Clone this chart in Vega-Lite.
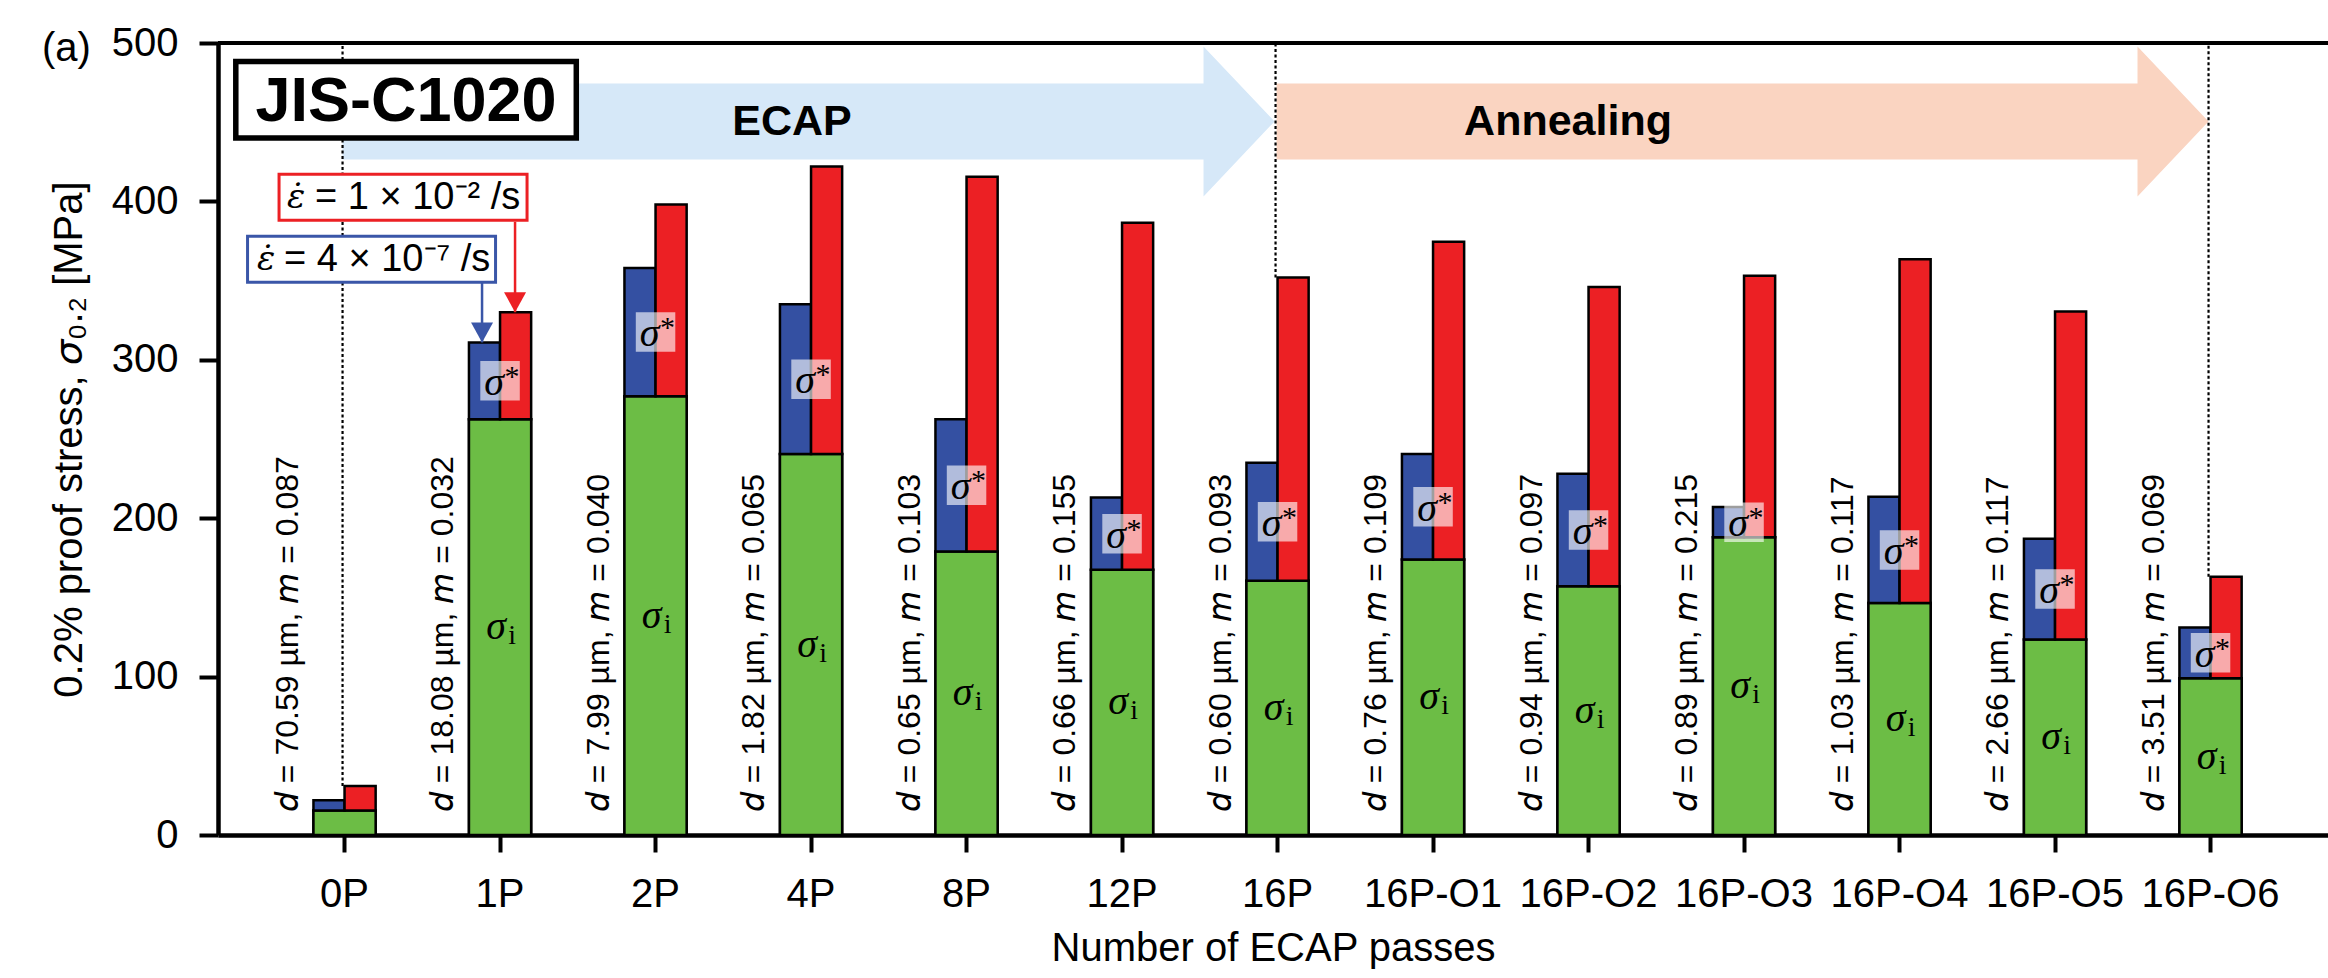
{
  "$schema": "https://vega.github.io/schema/vega-lite/v6.json",
  "width": 2110,
  "height": 792,
  "autosize": "none",
  "padding": {"left": 218, "top": 43, "right": 0, "bottom": 143},
  "background": "white",
  "config": {"view": {"stroke": null}, "font": "Liberation Sans"},
  "title": {
    "text": "(a)", "anchor": "start", "frame": "group", "orient": "top",
    "offset": 0, "dx": -176, "dy": 66, "baseline": "middle",
    "fontSize": 40, "fontWeight": "normal", "font": "Liberation Sans", "color": "black"
  },
  "datasets": {
    "passes": [
      {"pass": "0P", "sigma_i": 15.5, "slow": 22, "fast": 31, "d": 70.59, "m": 0.087},
      {"pass": "1P", "sigma_i": 262.5, "slow": 311, "fast": 330, "d": 18.08, "m": 0.032},
      {"pass": "2P", "sigma_i": 277, "slow": 358, "fast": 398, "d": 7.99, "m": 0.040},
      {"pass": "4P", "sigma_i": 240.5, "slow": 335, "fast": 422, "d": 1.82, "m": 0.065},
      {"pass": "8P", "sigma_i": 179, "slow": 262.5, "fast": 415.5, "d": 0.65, "m": 0.103},
      {"pass": "12P", "sigma_i": 167.5, "slow": 213, "fast": 386.5, "d": 0.66, "m": 0.155},
      {"pass": "16P", "sigma_i": 160.5, "slow": 235, "fast": 352, "d": 0.60, "m": 0.093},
      {"pass": "16P-O1", "sigma_i": 174, "slow": 240.5, "fast": 374.5, "d": 0.76, "m": 0.109},
      {"pass": "16P-O2", "sigma_i": 157, "slow": 228, "fast": 346, "d": 0.94, "m": 0.097},
      {"pass": "16P-O3", "sigma_i": 188, "slow": 207, "fast": 353, "d": 0.89, "m": 0.215},
      {"pass": "16P-O4", "sigma_i": 146.5, "slow": 213.5, "fast": 363.5, "d": 1.03, "m": 0.117},
      {"pass": "16P-O5", "sigma_i": 123.5, "slow": 187, "fast": 330.5, "d": 2.66, "m": 0.117},
      {"pass": "16P-O6", "sigma_i": 99, "slow": 131, "fast": 163, "d": 3.51, "m": 0.069}
    ]
  },
  "data": {"name": "passes"},
  "layer": [
    {
      "mark": {"type": "bar", "color": "#6cbd45", "stroke": "black", "strokeWidth": 2.5},
      "encoding": {
        "x": {
          "field": "pass", "type": "nominal", "sort": null,
          "scale": {
            "domain": ["0P", "1P", "2P", "4P", "8P", "12P", "16P", "16P-O1", "16P-O2", "16P-O3", "16P-O4", "16P-O5", "16P-O6"],
            "paddingInner": 0.6, "paddingOuter": 0.5846, "align": 0.525
          },
          "axis": {
            "title": "Number of ECAP passes", "titleFont": "Liberation Sans", "titleFontSize": 40,
            "titleFontWeight": "normal", "titleColor": "black", "titlePadding": 14,
            "labelFont": "Liberation Sans", "labelFontSize": 40, "labelColor": "black",
            "labelPadding": 22, "labelAngle": 0, "labelOverlap": false, "labelBound": false,
            "tickSize": 17, "tickWidth": 4, "tickColor": "black",
            "domainWidth": 4.5, "domainColor": "black", "grid": false
          }
        },
        "y": {
          "field": "sigma_i", "type": "quantitative",
          "scale": {"domain": [0, 500], "nice": false},
          "axis": {
            "title": "0.2% proof stress, 𝜎₀.₂ [MPa]", "titleFont": "Liberation Sans", "titleFontSize": 40,
            "titleFontWeight": "normal", "titleColor": "black", "titlePadding": 22,
            "values": [0, 100, 200, 300, 400, 500],
            "labelFont": "Liberation Sans", "labelFontSize": 40, "labelColor": "black", "labelPadding": 21,
            "tickSize": 19, "tickWidth": 4, "tickColor": "black",
            "domainWidth": 4.5, "domainColor": "black", "grid": false
          }
        }
      }
    },
    {
      "transform": [{"filter": "datum.pass === '16P'"}],
      "mark": {"type": "point", "shape": "M0,0L-0.947,-1L-0.947,-0.507L-12.427,-0.507L-12.427,0.507L-0.947,0.507L-0.947,1Z", "size": 22500, "filled": true, "color": "#d6e8f8", "opacity": 1, "strokeWidth": 0, "xOffset": -3},
      "encoding": {
        "x": {"field": "pass", "type": "nominal"},
        "y": {"datum": 450.5, "type": "quantitative"}
      }
    },
    {
      "transform": [{"filter": "datum.pass === '16P-O6'"}],
      "mark": {"type": "point", "shape": "M0,0L-0.947,-1L-0.947,-0.507L-12.427,-0.507L-12.427,0.507L-0.947,0.507L-0.947,1Z", "size": 22500, "filled": true, "color": "#fad4c1", "opacity": 1, "strokeWidth": 0, "xOffset": -2},
      "encoding": {
        "x": {"field": "pass", "type": "nominal"},
        "y": {"datum": 450.5, "type": "quantitative"}
      }
    },
    {
      "transform": [{"filter": {"field": "pass", "oneOf": ["0P", "16P", "16P-O6"]}}],
      "mark": {"type": "rule", "color": "black", "strokeWidth": 2.2, "strokeDash": [3, 2.5], "xOffset": -2},
      "encoding": {
        "x": {"field": "pass", "type": "nominal"},
        "y": {"field": "fast", "type": "quantitative"},
        "y2": {"datum": 500}
      }
    },
    {
      "mark": {"type": "bar", "color": "#6cbd45", "stroke": "black", "strokeWidth": 2.5},
      "encoding": {
        "x": {"field": "pass", "type": "nominal"},
        "y": {"field": "sigma_i", "type": "quantitative"}
      }
    },
    {
      "transform": [{"fold": ["slow", "fast"], "as": ["rate", "top"]}],
      "mark": {"type": "bar", "stroke": "black", "strokeWidth": 2.5, "opacity": 1},
      "encoding": {
        "x": {"field": "pass", "type": "nominal"},
        "xOffset": {"field": "rate", "type": "nominal", "scale": {"domain": ["slow", "fast"], "paddingInner": 0, "paddingOuter": 0}},
        "y": {"field": "top", "type": "quantitative"},
        "y2": {"field": "sigma_i"},
        "color": {"field": "rate", "type": "nominal", "scale": {"domain": ["slow", "fast"], "range": ["#3450a2", "#ec2024"]}, "legend": null}
      }
    },
    {
      "transform": [{"filter": "datum.pass !== '0P'"}, {"calculate": "(datum.sigma_i + datum.slow) / 2", "as": "star_mid"}],
      "mark": {"type": "point", "shape": "square", "size": 1560, "filled": true, "color": "white", "opacity": 0.62, "strokeWidth": 0},
      "encoding": {
        "x": {"field": "pass", "type": "nominal"},
        "y": {"field": "star_mid", "type": "quantitative"}
      }
    },
    {
      "transform": [{"filter": "datum.pass !== '0P'"}, {"calculate": "(datum.sigma_i + datum.slow) / 2", "as": "star_mid"}],
      "mark": {"type": "text", "text": "σ", "font": "Liberation Serif", "fontStyle": "italic", "fontSize": 40, "align": "center", "baseline": "middle", "dx": -6, "dy": 2, "color": "black"},
      "encoding": {
        "x": {"field": "pass", "type": "nominal"},
        "y": {"field": "star_mid", "type": "quantitative"}
      }
    },
    {
      "transform": [{"filter": "datum.pass !== '0P'"}, {"calculate": "(datum.sigma_i + datum.slow) / 2", "as": "star_mid"}],
      "mark": {"type": "text", "text": "*", "font": "Liberation Serif", "fontSize": 30, "align": "center", "baseline": "middle", "dx": 12, "dy": -4, "color": "black"},
      "encoding": {
        "x": {"field": "pass", "type": "nominal"},
        "y": {"field": "star_mid", "type": "quantitative"}
      }
    },
    {
      "transform": [{"filter": "datum.pass !== '0P'"}, {"calculate": "datum.sigma_i / 2", "as": "i_mid"}],
      "mark": {"type": "text", "text": "σ", "font": "Liberation Serif", "fontStyle": "italic", "fontSize": 40, "align": "center", "baseline": "middle", "dx": -4, "color": "black"},
      "encoding": {
        "x": {"field": "pass", "type": "nominal"},
        "y": {"field": "i_mid", "type": "quantitative"}
      }
    },
    {
      "transform": [{"filter": "datum.pass !== '0P'"}, {"calculate": "datum.sigma_i / 2", "as": "i_mid"}],
      "mark": {"type": "text", "text": "i", "font": "Liberation Serif", "fontSize": 28, "align": "center", "baseline": "middle", "dx": 12, "dy": 9, "color": "black"},
      "encoding": {
        "x": {"field": "pass", "type": "nominal"},
        "y": {"field": "i_mid", "type": "quantitative"}
      }
    },
    {
      "transform": [{"calculate": "'𝘥 = ' + format(datum.d, '.2f') + ' µm,  𝘮 = ' + format(datum.m, '.3f')", "as": "grain"}],
      "mark": {"type": "text", "angle": 270, "align": "left", "baseline": "alphabetic", "dy": -47, "font": "Liberation Sans", "fontSize": 32, "color": "black"},
      "encoding": {
        "x": {"field": "pass", "type": "nominal"},
        "y": {"datum": 14.5, "type": "quantitative"},
        "text": {"field": "grain", "type": "nominal"}
      }
    },
    {
      "transform": [{"filter": "datum.pass === '1P'"}],
      "mark": {"type": "rule", "strokeWidth": 2.5, "color": "#ec2024", "xOffset": 15},
      "encoding": {
        "x": {"field": "pass", "type": "nominal"},
        "y": {"field": "fast", "type": "quantitative"},
        "y2": {"datum": 387.1}
      }
    },
    {
      "transform": [{"filter": "datum.pass === '1P'"}],
      "mark": {"type": "rule", "strokeWidth": 2.5, "color": "#3a56a8", "xOffset": -18},
      "encoding": {
        "x": {"field": "pass", "type": "nominal"},
        "y": {"field": "slow", "type": "quantitative"},
        "y2": {"datum": 348.6}
      }
    },
    {
      "transform": [{"filter": "datum.pass === '1P'"}],
      "mark": {"type": "point", "shape": "M0,0L-0.55,-1L0.55,-1Z", "size": 1600, "filled": true, "color": "#ec2024", "opacity": 1, "strokeWidth": 0, "xOffset": 15},
      "encoding": {
        "x": {"field": "pass", "type": "nominal"},
        "y": {"field": "fast", "type": "quantitative"}
      }
    },
    {
      "transform": [{"filter": "datum.pass === '1P'"}],
      "mark": {"type": "point", "shape": "M0,0L-0.55,-1L0.55,-1Z", "size": 1600, "filled": true, "color": "#3a56a8", "opacity": 1, "strokeWidth": 0, "xOffset": -18},
      "encoding": {
        "x": {"field": "pass", "type": "nominal"},
        "y": {"field": "slow", "type": "quantitative"}
      }
    },
    {
      "transform": [{"filter": "datum.pass === '1P'"}],
      "mark": {"type": "point", "shape": "M-1,-0.1855L1,-0.1855L1,0.1855L-1,0.1855Z", "size": 61504, "filled": false, "fill": "white", "fillOpacity": 1, "stroke": "#ec2024", "strokeWidth": 3, "opacity": 1, "xOffset": -97},
      "encoding": {
        "x": {"field": "pass", "type": "nominal"},
        "y": {"datum": 402.6, "type": "quantitative"}
      }
    },
    {
      "transform": [{"filter": "datum.pass === '1P'"}],
      "mark": {"type": "text", "text": "ε̇", "font": "DejaVu Serif", "fontStyle": "italic", "fontSize": 34, "align": "left", "baseline": "middle", "color": "black", "xOffset": -213, "dy": 1},
      "encoding": {
        "x": {"field": "pass", "type": "nominal"},
        "y": {"datum": 402.6, "type": "quantitative"}
      }
    },
    {
      "transform": [{"filter": "datum.pass === '1P'"}],
      "mark": {"type": "text", "text": "= 1 × 10⁻² /s", "font": "Liberation Sans", "fontSize": 38, "align": "left", "baseline": "middle", "color": "black", "xOffset": -185, "dy": 1},
      "encoding": {
        "x": {"field": "pass", "type": "nominal"},
        "y": {"datum": 402.6, "type": "quantitative"}
      }
    },
    {
      "transform": [{"filter": "datum.pass === '1P'"}],
      "mark": {"type": "point", "shape": "M-1,-0.1855L1,-0.1855L1,0.1855L-1,0.1855Z", "size": 61504, "filled": false, "fill": "white", "fillOpacity": 1, "stroke": "#3a56a8", "strokeWidth": 3, "opacity": 1, "xOffset": -128.5},
      "encoding": {
        "x": {"field": "pass", "type": "nominal"},
        "y": {"datum": 363.5, "type": "quantitative"}
      }
    },
    {
      "transform": [{"filter": "datum.pass === '1P'"}],
      "mark": {"type": "text", "text": "ε̇", "font": "DejaVu Serif", "fontStyle": "italic", "fontSize": 34, "align": "left", "baseline": "middle", "color": "black", "xOffset": -243, "dy": 1},
      "encoding": {
        "x": {"field": "pass", "type": "nominal"},
        "y": {"datum": 363.5, "type": "quantitative"}
      }
    },
    {
      "transform": [{"filter": "datum.pass === '1P'"}],
      "mark": {"type": "text", "text": "= 4 × 10⁻⁷ /s", "font": "Liberation Sans", "fontSize": 38, "align": "left", "baseline": "middle", "color": "black", "xOffset": -216, "dy": 1},
      "encoding": {
        "x": {"field": "pass", "type": "nominal"},
        "y": {"datum": 363.5, "type": "quantitative"}
      }
    },
    {
      "transform": [{"filter": "datum.pass === '0P'"}],
      "mark": {"type": "point", "shape": "M-1,-0.2247L1,-0.2247L1,0.2247L-1,0.2247Z", "size": 115940, "filled": false, "fill": "white", "fillOpacity": 1, "stroke": "black", "strokeWidth": 5.5, "opacity": 1, "xOffset": 61.5},
      "encoding": {
        "x": {"field": "pass", "type": "nominal"},
        "y": {"datum": 464.2, "type": "quantitative"}
      }
    },
    {
      "transform": [{"filter": "datum.pass === '0P'"}],
      "mark": {"type": "text", "text": "JIS-C1020", "font": "Liberation Sans", "fontWeight": "bold", "fontSize": 63, "align": "center", "baseline": "middle", "color": "black", "xOffset": 61.5, "dy": 2},
      "encoding": {
        "x": {"field": "pass", "type": "nominal"},
        "y": {"datum": 464.2, "type": "quantitative"}
      }
    },
    {
      "transform": [{"filter": "datum.pass === '4P'"}],
      "mark": {"type": "text", "text": "ECAP", "font": "Liberation Sans", "fontWeight": "bold", "fontSize": 43, "align": "center", "baseline": "middle", "color": "black", "xOffset": -19},
      "encoding": {
        "x": {"field": "pass", "type": "nominal"},
        "y": {"datum": 450, "type": "quantitative"}
      }
    },
    {
      "transform": [{"filter": "datum.pass === '16P-O2'"}],
      "mark": {"type": "text", "text": "Annealing", "font": "Liberation Sans", "fontWeight": "bold", "fontSize": 43, "align": "center", "baseline": "middle", "color": "black", "xOffset": -20.5},
      "encoding": {
        "x": {"field": "pass", "type": "nominal"},
        "y": {"datum": 450, "type": "quantitative"}
      }
    },
    {
      "transform": [{"filter": "datum.pass === '0P'"}],
      "mark": {"type": "rule", "color": "black", "strokeWidth": 4},
      "encoding": {
        "y": {"datum": 500, "type": "quantitative"}
      }
    }
  ]
}
